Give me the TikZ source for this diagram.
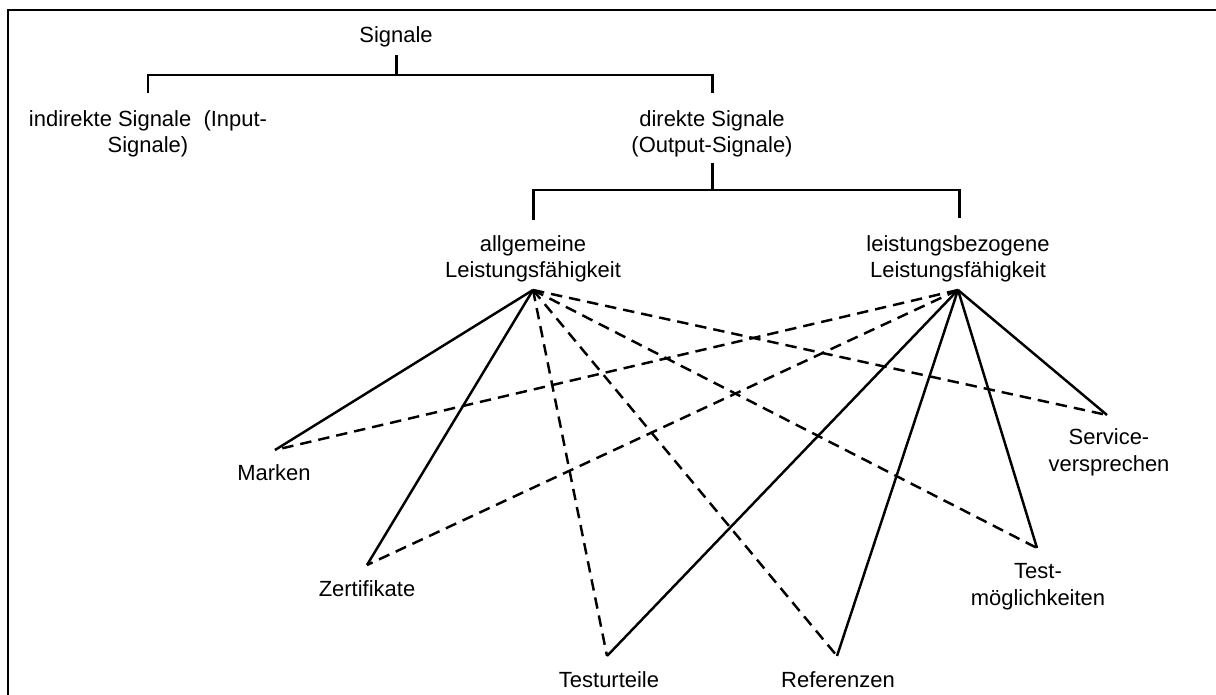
\documentclass[tikz,border=0pt]{standalone}
\usepackage{fontspec}
\setmainfont{Liberation Sans}
\tikzset{
    lbl/.style={inner sep=0pt, anchor=base, align=center, font=\fontsize{12.5}{15.3}\selectfont},
    tree/.style={line width=1.7pt},
    solidlink/.style={line width=1.4pt},
    dashlink/.style={line width=1.4pt, dash pattern=on 6.5pt off 4pt}
}
\begin{document}
\begin{tikzpicture}[x=0.02cm, y=-0.02cm]
        \useasboundingbox (0,0) rectangle (1216,695);
        % Frame
        \draw[line width=1.3pt] (8,695) -- (8,10) -- (1216,10);

        %% TREE
        % (two-line labels sit on their last baseline)
        \node[lbl] (signale) at (396,43) {Signale};
        \node[lbl] (indirekt) at (148,153) {indirekte Signale\ \ (Input-\\Signale)};
        \node[lbl] (direkt) at (712,153) {direkte Signale\\(Output-Signale)};
        \node[lbl] (allg) at (533,278) {allgemeine\\Leistungsfähigkeit};
        \node[lbl] (leist) at (958,278) {leistungsbezogene\\Leistungsfähigkeit};
        % Joints
        \coordinate (sig-s) at (396,55);
        \coordinate (sig-b) at (396,75);
        \coordinate (ind-n) at (148,93);
        \coordinate (dir-n) at (712,93);
        \coordinate (dir-s) at (712,163);
        \coordinate (dir-b) at (712,190);
        \coordinate (allg-n) at (533,220);
        \coordinate (leist-n) at (959,218);
        % Bars
        \draw[tree] (sig-s) -- (sig-b);
        \draw[tree] (ind-n) |- (sig-b) -| (dir-n);
        \draw[tree] (dir-s) -- (dir-b);
        \draw[tree] (allg-n) |- (dir-b) -| (leist-n);

        %% SIGNALS
        \node[lbl] (marken) at (274,480) {Marken};
        \node[lbl] (zert) at (367,596) {Zertifikate};
        \node[lbl] (testurt) at (609,687) {Testurteile};
        \node[lbl] (ref) at (838,687) {Referenzen};
        \node[lbl] (testm) at (1038,605) {Test-\\möglichkeiten};
        \node[lbl] (service) at (1109,471) {Service-\\versprechen};
        % Meeting points
        \coordinate (allg-p) at (533,290);
        \coordinate (leist-p) at (958,290);
        \coordinate (marken-p) at (275,450);
        \coordinate (zert-p) at (367,565);
        \coordinate (testurt-p) at (607,656);
        \coordinate (ref-p) at (837,656);
        \coordinate (testm-p) at (1037,548);
        \coordinate (service-p) at (1107,415);

        %% LINKS
        % allgemeine
        \draw[solidlink] (allg-p) -- (marken-p);
        \draw[solidlink] (allg-p) -- (zert-p);
        \draw[dashlink] (allg-p) -- (testurt-p);
        \draw[dashlink] (allg-p) -- (ref-p);
        \draw[dashlink] (allg-p) -- (testm-p);
        \draw[dashlink] (allg-p) -- (service-p);
        % leistungsbezogen
        \draw[dashlink] (leist-p) -- (marken-p);
        \draw[dashlink] (leist-p) -- (zert-p);
        \draw[solidlink] (leist-p) -- (testurt-p);
        \draw[solidlink] (leist-p) -- (ref-p);
        \draw[solidlink] (leist-p) -- (testm-p);
        \draw[solidlink] (leist-p) -- (service-p);
\end{tikzpicture}
\end{document}
